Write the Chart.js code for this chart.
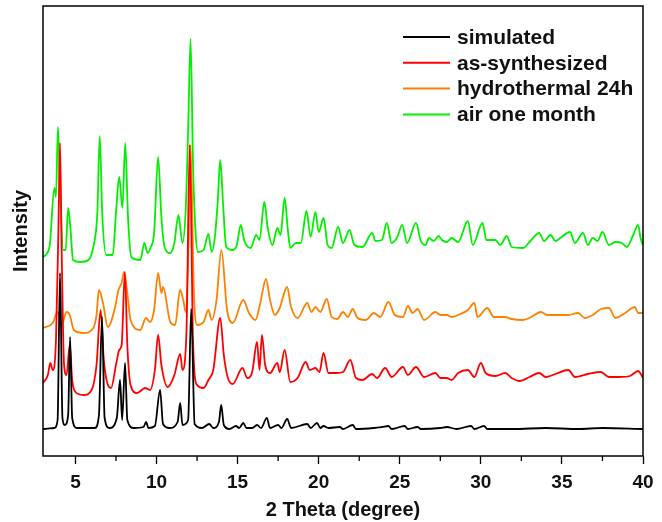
<!DOCTYPE html>
<html>
<head>
<meta charset="utf-8">
<title>XRD patterns</title>
<script src="https://cdn.jsdelivr.net/npm/chart.js@4.4.0/dist/chart.umd.min.js"></script>
<style>
  body { margin: 0; background: #fff; }
  #wrap { width: 662px; height: 522px; }
</style>
</head>
<body>
<div id="wrap"><canvas id="xrdChart" width="662" height="522"></canvas></div>
<script>
// series labels and colours
var seriesNames = ["simulated", "as-synthesized", "hydrothermal 24h", "air one month"];
var seriesColors = ["#000000", "#ff0000", "#ff8000", "#00f000"];

// x axis ticks (2 Theta, degree)
var majorTicks = [5, 10, 15, 20, 25, 30, 35, 40];
var minorTicks = [7.5, 12.5, 17.5, 22.5, 27.5, 32.5, 37.5];

// simulated (offset intensity in arbitrary units)
var simTheta = [3.0, 3.7, 3.9, 4.05, 4.2, 4.35, 4.55, 4.67, 4.8, 5.1, 6.2, 6.45, 6.64, 6.8, 7.1, 7.55, 7.75, 7.88, 8.06, 8.2,
  8.6, 9.2, 9.36, 9.5, 9.9, 10.22, 10.4, 10.8, 11.3, 11.46, 11.6, 11.95, 12.14, 12.35, 12.8, 13.25, 13.5, 13.85, 13.99, 14.15,
  14.5, 14.9, 15.1, 15.35, 15.55, 15.9, 16.2, 16.45, 16.8, 17.0, 17.5, 17.7, 18.06, 18.3, 19.3, 19.5, 19.9, 20.1, 20.3, 20.6,
  21.3, 21.5, 22.1, 22.3, 23.4, 23.9, 24.3, 24.5, 25.3, 25.5, 26.1, 26.3, 27.5, 27.9, 28.5, 29.4, 29.6, 30.2, 30.4, 32,
  34, 36, 37.5, 40];
var simInt = [29, 30, 38, 185, 40, 33, 43, 121, 40, 30, 30, 43, 141, 40, 30, 40, 78, 38, 95, 38,
  30, 31, 36, 30, 32, 68, 34, 30, 36, 55, 33, 38, 149, 34, 30, 34, 30, 36, 53, 33,
  29, 32, 30, 35, 30, 30, 33, 30, 40, 30, 33, 30, 39, 30, 34, 30, 35, 30, 32, 30,
  31, 29, 33, 29, 30, 31, 32, 29, 32, 29, 31, 29, 30, 31, 29, 32, 29, 32, 29, 29,
  30, 29, 30, 29];

// as-synthesized
var asTheta = [3.0, 3.3, 3.45, 3.6, 3.8, 3.95, 4.05, 4.15, 4.3, 4.45, 4.65, 4.8, 5.0, 5.5, 6.0, 6.3, 6.55, 6.75, 7.0, 7.2,
  7.5, 7.7, 7.85, 8.05, 8.2, 8.4, 8.8, 9.3, 9.6, 9.9, 10.1, 10.3, 10.7, 11.1, 11.46, 11.6, 11.85, 12.05, 12.25, 12.5,
  12.9, 13.2, 13.5, 13.93, 14.15, 14.4, 14.7, 15.3, 15.6, 15.9, 16.2, 16.35, 16.5, 16.7, 17.0, 17.45, 17.6, 17.9, 18.25, 18.7,
  19.2, 19.45, 19.8, 20.05, 20.3, 20.6, 21.1, 21.5, 21.95, 22.3, 22.7, 23.3, 23.6, 24.1, 24.5, 25.2, 25.5, 26.0, 26.5, 27.2,
  27.5, 27.9, 28.2, 28.6, 29.2, 29.6, 30.0, 30.3, 30.9, 31.5, 31.9, 32.4, 33.0, 33.6, 34.0, 34.6, 35.4, 35.8, 36.6, 37.4,
  37.9, 38.5, 39.2, 39.7, 40.0];
var asInt = [75, 83, 95, 88, 118, 228, 315, 208, 93, 83, 113, 78, 66, 63, 68, 93, 148, 98, 73, 70,
  93, 108, 113, 186, 113, 73, 65, 70, 68, 88, 123, 93, 71, 83, 104, 88, 128, 313, 118, 73,
  70, 78, 88, 140, 103, 80, 74, 90, 80, 86, 116, 88, 123, 93, 85, 95, 86, 108, 76, 80,
  96, 88, 90, 86, 105, 85, 85, 86, 98, 80, 78, 84, 80, 90, 81, 91, 83, 91, 81, 85,
  80, 80, 78, 85, 88, 81, 95, 85, 82, 85, 80, 77, 81, 85, 81, 84, 88, 81, 84, 86,
  81, 81, 82, 87, 80];

// hydrothermal 24h
var hyTheta = [3.0, 3.6, 3.9, 4.15, 4.45, 4.65, 4.9, 5.5, 6.1, 6.3, 6.45, 6.7, 7.0, 7.45, 7.65, 7.85, 8.0, 8.2, 8.4, 9.0,
  9.35, 9.6, 9.85, 10.1, 10.3, 10.4, 10.85, 11.15, 11.45, 11.65, 11.8, 11.95, 12.1, 12.3, 12.5, 12.9, 13.2, 13.4, 13.7, 14.0,
  14.35, 14.7, 15.35, 15.7, 16.1, 16.4, 16.75, 17.0, 17.3, 17.6, 18.05, 18.3, 18.7, 19.3, 19.55, 19.8, 20.1, 20.5, 20.8, 21.15,
  21.5, 21.8, 22.1, 22.4, 22.9, 23.4, 23.8, 24.3, 24.7, 25.2, 25.5, 25.8, 26.1, 26.5, 27.2, 27.5, 27.9, 28.2, 28.6, 29.2,
  29.6, 29.8, 30.4, 30.8, 31.5, 31.9, 32.6, 33.1, 33.7, 34.1, 34.6, 35.4, 36.0, 36.4, 36.9, 37.4, 37.9, 38.3, 38.9, 39.5,
  39.7, 40.0];
var hyInt = [130, 135, 146, 133, 146, 143, 128, 125, 130, 143, 168, 155, 131, 151, 168, 175, 186, 165, 138, 128,
  140, 136, 148, 185, 165, 171, 136, 133, 168, 158, 146, 198, 313, 168, 133, 136, 148, 138, 158, 208,
  148, 135, 158, 145, 138, 155, 179, 158, 143, 150, 171, 151, 140, 155, 146, 151, 146, 159, 141, 139,
  146, 141, 149, 140, 138, 145, 141, 156, 143, 141, 152, 145, 149, 138, 146, 143, 143, 141, 143, 148,
  155, 141, 150, 141, 141, 139, 138, 141, 146, 143, 143, 143, 145, 140, 143, 149, 150, 140, 145, 151,
  145, 145];

// air one month
var airTheta = [3.0, 3.4, 3.7, 3.8, 3.92, 4.05, 4.25, 4.4, 4.55, 4.7, 4.85, 5.3, 5.8, 6.1, 6.35, 6.5, 6.65, 6.9, 7.3, 7.5,
  7.7, 7.9, 8.07, 8.25, 8.45, 9.0, 9.25, 9.45, 9.65, 9.85, 10.1, 10.3, 10.5, 10.85, 11.1, 11.35, 11.6, 11.8, 11.95, 12.1,
  12.25, 12.4, 12.55, 12.9, 13.2, 13.4, 13.6, 13.78, 13.93, 14.1, 14.3, 14.7, 14.95, 15.2, 15.4, 15.8, 16.15, 16.35, 16.65, 16.85,
  17.15, 17.45, 17.65, 17.9, 18.1, 18.25, 18.6, 18.9, 19.25, 19.5, 19.8, 20.0, 20.3, 20.55, 20.8, 21.2, 21.5, 21.9, 22.2, 22.7,
  23.3, 23.5, 23.9, 24.2, 24.5, 24.85, 25.15, 25.45, 26.0, 26.3, 26.6, 26.8, 27.1, 27.4, 27.6, 27.9, 28.2, 28.6, 29.2, 29.5,
  30.1, 30.35, 30.9, 31.2, 31.6, 31.9, 32.6, 33.0, 33.6, 33.9, 34.3, 34.6, 34.9, 35.5, 35.8, 36.3, 36.6, 36.9, 37.2, 37.5,
  37.9, 38.3, 38.7, 39.0, 39.4, 39.7, 39.85, 40.0];
var airInt = [201, 211, 270, 261, 331, 268, 208, 208, 250, 228, 198, 196, 198, 211, 245, 322, 245, 203, 203, 245,
  281, 250, 315, 238, 201, 198, 215, 205, 211, 225, 301, 241, 211, 205, 215, 243, 215, 248, 328, 419,
  295, 228, 206, 208, 224, 206, 221, 258, 298, 255, 211, 208, 213, 233, 218, 210, 223, 218, 256, 231,
  213, 230, 223, 260, 228, 210, 215, 215, 247, 221, 246, 226, 240, 213, 210, 231, 215, 228, 213, 211,
  225, 217, 218, 235, 215, 221, 233, 215, 235, 217, 213, 220, 217, 222, 218, 216, 220, 216, 237, 213,
  235, 218, 218, 213, 222, 211, 210, 216, 225, 217, 223, 217, 220, 226, 215, 225, 213, 220, 217, 226,
  213, 216, 215, 211, 223, 233, 220, 213];

function toPoints(xs, ys) {
  var pts = [];
  for (var i = 0; i < xs.length; i++) {
    pts.push({ x: xs[i], y: ys[i] });
  }
  return pts;
}

var allSeries = [
  toPoints(simTheta, simInt),
  toPoints(asTheta, asInt),
  toPoints(hyTheta, hyInt),
  toPoints(airTheta, airInt)
];

var datasets = [];
for (var i = 0; i < seriesNames.length; i++) {
  datasets.push({
    label: seriesNames[i],
    data: allSeries[i],
    borderColor: seriesColors[i],
    backgroundColor: seriesColors[i],
    borderWidth: 1.8,
    pointRadius: 0,
    cubicInterpolationMode: "monotone",
    fill: false
  });
}

var boldFont = "'Liberation Sans', Arial, sans-serif";

// frame around the plot, minor ticks and the legend
var framePlugin = {
  id: "frame",
  afterDraw: function(chart) {
    var ctx = chart.ctx;
    var a = chart.chartArea;
    var xs = chart.scales.x;
    ctx.save();
    ctx.strokeStyle = "#000";
    ctx.lineWidth = 1.5;
    ctx.strokeRect(a.left, a.top, a.right - a.left, a.bottom - a.top);
    //minor ticks
    ctx.lineWidth = 1.3;
    for (var i = 0; i < minorTicks.length; i++) {
      var px = xs.getPixelForValue(minorTicks[i]);
      ctx.beginPath();
      ctx.moveTo(px, a.bottom);
      ctx.lineTo(px, a.bottom + 5);
      ctx.stroke();
    }
    //legend
    ctx.font = "bold 21px " + boldFont;
    ctx.textBaseline = "middle";
    ctx.textAlign = "left";
    for (var j = 0; j < chart.data.datasets.length; j++) {
      var ds = chart.data.datasets[j];
      var ly = 37 + j * 25.8;
      ctx.strokeStyle = ds.borderColor;
      ctx.lineWidth = 2;
      ctx.beginPath();
      ctx.moveTo(403, ly);
      ctx.lineTo(450, ly);
      ctx.stroke();
      ctx.fillStyle = "#111";
      ctx.fillText(ds.label, 457, ly + 1);
    }
    ctx.restore();
  }
};

var ctx1 = document.getElementById("xrdChart");
var chart1 = new Chart(ctx1, {
  type: "line",
  data: { datasets: datasets },
  options: {
    responsive: false,
    animation: false,
    layout: { padding: { top: 6, right: 19, left: 0, bottom: 0 } },
    plugins: {
      legend: { display: false },
      tooltip: { enabled: false }
    },
    scales: {
      x: {
        type: "linear",
        min: 3,
        max: 40,
        afterBuildTicks: function(axis) {
          axis.ticks = majorTicks.map(function(v) { return { value: v }; });
        },
        afterFit: function(scale) { scale.height = 66; },
        grid: { drawOnChartArea: false, drawTicks: true, tickLength: 8, tickColor: "#000", tickWidth: 1.3 },
        border: { display: false },
        ticks: {
          color: "#111",
          padding: 7,
          maxRotation: 0,
          font: { family: boldFont, size: 19, weight: "bold" }
        },
        title: {
          display: true,
          text: "2 Theta (degree)",
          color: "#111",
          padding: { top: 0, bottom: 0 },
          font: { family: boldFont, size: 20, weight: "bold" }
        }
      },
      y: {
        min: 2,
        max: 452,
        afterFit: function(scale) { scale.width = 43; },
        grid: { display: false },
        border: { display: false },
        ticks: { display: false },
        title: {
          display: true,
          text: "Intensity",
          color: "#111",
          padding: { top: 9, bottom: 0 },
          font: { family: boldFont, size: 20, weight: "bold" }
        }
      }
    }
  },
  plugins: [framePlugin]
});
</script>
</body>
</html>
